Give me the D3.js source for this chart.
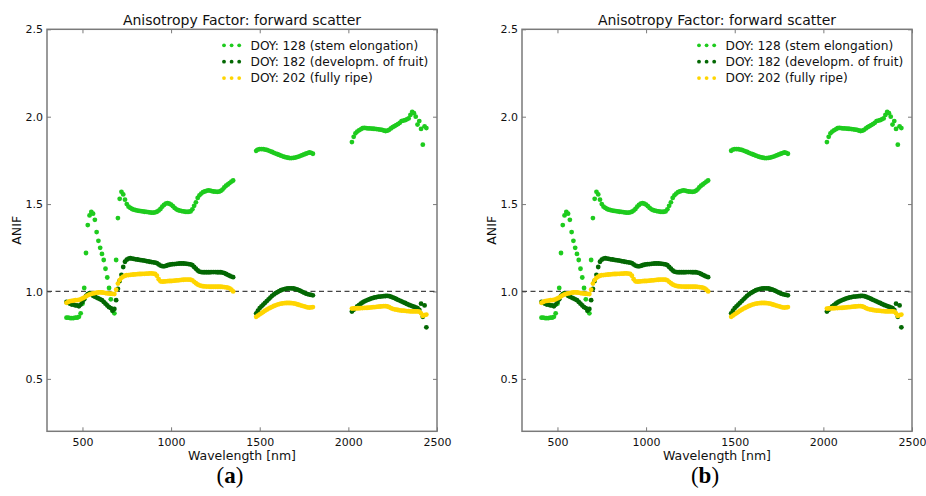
<!DOCTYPE html>
<html>
<head>
<meta charset="utf-8">
<script src="https://cdn.jsdelivr.net/npm/d3@7"></script>
<style>
  body { margin: 0; background: #fff; }
  svg { display: block; font-family: "DejaVu Sans", sans-serif; }
</style>
</head>
<body>
<svg id="chart" width="926" height="496"></svg>
<script>
// wavelength grid: each segment starts here, 10 nm apart (gaps = water bands)
var segmentStarts = [410, 1480, 2020],
    stepNm = 10;

// DOY 128 (stem elongation)
var doy128Vis = [0.85, 0.85, 0.848, 0.847, 0.848, 0.85, 0.85, 0.855, 0.875, 0.93,
    1.02, 1.22, 1.38, 1.435, 1.455, 1.445, 1.41, 1.34, 1.29, 1.25,
    1.215, 1.18, 1.13, 1.08, 1.02, 0.955, 0.89, 0.875, 1.18, 1.42,
    1.53, 1.57, 1.555, 1.525, 1.50, 1.485, 1.478, 1.472, 1.468, 1.465,
    1.463, 1.461, 1.46, 1.458, 1.456, 1.455, 1.454, 1.452, 1.451, 1.451,
    1.453, 1.456, 1.463, 1.472, 1.485, 1.495, 1.503, 1.505, 1.502, 1.497,
    1.488, 1.478, 1.47, 1.465, 1.462, 1.46, 1.458, 1.456, 1.455, 1.456,
    1.458, 1.47, 1.49, 1.51, 1.535, 1.55, 1.56, 1.568, 1.572, 1.576,
    1.578, 1.577, 1.574, 1.572, 1.571, 1.57, 1.571, 1.575, 1.583, 1.595,
    1.605, 1.612, 1.62, 1.628, 1.635];
var doy128Swir1 = [1.805, 1.812, 1.815, 1.815, 1.814, 1.812, 1.81, 1.806, 1.802, 1.798,
    1.793, 1.789, 1.785, 1.781, 1.777, 1.773, 1.77, 1.767, 1.765, 1.763,
    1.763, 1.764, 1.766, 1.769, 1.772, 1.776, 1.78, 1.784, 1.788, 1.792,
    1.795, 1.793, 1.788];
var doy128Swir2 = [1.855, 1.885, 1.905, 1.915, 1.922, 1.928, 1.934, 1.936, 1.935, 1.933,
    1.933, 1.932, 1.931, 1.93, 1.929, 1.928, 1.926, 1.924, 1.921, 1.918,
    1.92, 1.925, 1.933, 1.94, 1.946, 1.952, 1.958, 1.965, 1.975, 1.978,
    1.98, 1.985, 1.99, 2.01, 2.028, 2.02, 2.0, 1.955, 1.975, 1.93,
    1.84, 1.945, 1.935];

// DOY 182 (developm. of fruit)
var doy182Vis = [0.94, 0.935, 0.93, 0.925, 0.925, 0.92, 0.92, 0.915, 0.925, 0.94,
    0.955, 0.975, 0.985, 0.99, 0.985, 0.975, 0.97, 0.965, 0.96, 0.955,
    0.95, 0.94, 0.93, 0.92, 0.91, 0.905, 0.89, 0.9, 0.95, 1.015,
    1.06, 1.095, 1.14, 1.17, 1.182, 1.188, 1.19, 1.188, 1.186, 1.184,
    1.183, 1.181, 1.179, 1.178, 1.176, 1.174, 1.172, 1.17, 1.168, 1.167,
    1.165, 1.162, 1.155, 1.148, 1.145, 1.144, 1.146, 1.15, 1.153, 1.155,
    1.156, 1.157, 1.158, 1.159, 1.16, 1.16, 1.16, 1.159, 1.158, 1.157,
    1.155, 1.15, 1.14, 1.13, 1.12, 1.113, 1.111, 1.11, 1.11, 1.11,
    1.11, 1.11, 1.111, 1.111, 1.111, 1.11, 1.11, 1.11, 1.108, 1.105,
    1.1, 1.095, 1.09, 1.085, 1.082];
var doy182Swir1 = [0.875, 0.89, 0.905, 0.915, 0.925, 0.935, 0.945, 0.955, 0.965, 0.975,
    0.983, 0.99, 0.996, 1.002, 1.007, 1.011, 1.014, 1.016, 1.017, 1.018,
    1.018, 1.017, 1.015, 1.012, 1.008, 1.003, 0.998, 0.993, 0.988, 0.985,
    0.982, 0.98, 0.978];
var doy182Swir2 = [0.885, 0.895, 0.905, 0.915, 0.922, 0.93, 0.937, 0.943, 0.948, 0.952,
    0.956, 0.96, 0.963, 0.966, 0.968, 0.97, 0.971, 0.972, 0.973, 0.974,
    0.975, 0.973, 0.97, 0.966, 0.962, 0.957, 0.952, 0.948, 0.943, 0.938,
    0.934, 0.929, 0.924, 0.92, 0.916, 0.913, 0.909, 0.905, 0.895, 0.93,
    0.855, 0.92, 0.795];

// DOY 202 (fully ripe)
var doy202Vis = [0.935, 0.94, 0.945, 0.946, 0.948, 0.95, 0.95, 0.952, 0.955, 0.96,
    0.965, 0.972, 0.978, 0.983, 0.986, 0.989, 0.991, 0.993, 0.994, 0.995,
    0.994, 0.993, 0.991, 0.989, 0.988, 0.987, 0.986, 0.985, 1.01, 1.045,
    1.065, 1.078, 1.085, 1.09, 1.093, 1.094, 1.095, 1.096, 1.097, 1.098,
    1.099, 1.1, 1.1, 1.101, 1.101, 1.102, 1.102, 1.103, 1.103, 1.102,
    1.1, 1.09, 1.07, 1.058, 1.056, 1.057, 1.058, 1.059, 1.06, 1.06,
    1.061, 1.062, 1.063, 1.064, 1.065, 1.066, 1.067, 1.068, 1.068, 1.068,
    1.067, 1.064, 1.055, 1.047, 1.04, 1.035, 1.032, 1.03, 1.029, 1.028,
    1.028, 1.027, 1.027, 1.027, 1.027, 1.027, 1.027, 1.027, 1.026, 1.025,
    1.024, 1.022, 1.018, 1.01, 1.0];
var doy202Swir1 = [0.855, 0.862, 0.869, 0.876, 0.883, 0.89, 0.896, 0.902, 0.907, 0.912,
    0.917, 0.921, 0.925, 0.928, 0.93, 0.932, 0.933, 0.934, 0.934, 0.934,
    0.933, 0.932, 0.93, 0.927, 0.924, 0.921, 0.918, 0.915, 0.912, 0.909,
    0.908, 0.909, 0.911];
var doy202Swir2 = [0.902, 0.903, 0.903, 0.904, 0.904, 0.905, 0.905, 0.906, 0.906, 0.907,
    0.908, 0.909, 0.91, 0.911, 0.912, 0.913, 0.914, 0.915, 0.916, 0.916,
    0.914, 0.91, 0.905, 0.901, 0.898, 0.896, 0.894, 0.892, 0.891, 0.89,
    0.889, 0.888, 0.887, 0.886, 0.886, 0.886, 0.886, 0.886, 0.885, 0.875,
    0.86, 0.865, 0.868];

var seriesLabels = ["DOY: 128 (stem elongation)", "DOY: 182 (developm. of fruit)", "DOY: 202 (fully ripe)"],
    seriesColors = ["#1ecb1e", "#036803", "#ffd500"],
    seriesValues = [
        [doy128Vis, doy128Swir1, doy128Swir2],
        [doy182Vis, doy182Swir1, doy182Swir2],
        [doy202Vis, doy202Swir1, doy202Swir2]
    ];

var xTicks = [500, 1000, 1500, 2000, 2500],
    yTicks = [0.5, 1.0, 1.5, 2.0, 2.5],
    panelCaptions = ["a", "b"],
    panelLefts = [47, 522];

(function () {
    var svg = d3.select("#chart"),
        plotTop = 29.3,
        plotW = 390,
        plotH = 402,
        frameColor = "#7a7a7a";

    var toPoints = function (segs) {
        var pts = [];
        segs.forEach(function (vals, s) {
            vals.forEach(function (v, i) {
                pts.push({ w: segmentStarts[s] + i * stepNm, v: v });
            });
        });
        return pts;
    };

    var drawPanel = function (left, caption) {
        var x = d3.scaleLinear().domain([300, 2500]).range([0, plotW]),
            y = d3.scaleLinear().domain([0.2, 2.5]).range([plotH, 0]);

        var g = svg.append("g").attr("transform", "translate(" + left + "," + plotTop + ")");

        // ticks point inward on all four sides
        g.append("g").attr("transform", "translate(0," + plotH + ")")
            .call(d3.axisBottom(x).tickValues(xTicks).tickSize(-4).tickPadding(7).tickFormat(d3.format("d")));
        g.append("g")
            .call(d3.axisTop(x).tickValues(xTicks).tickSize(-4).tickFormat(""));
        g.append("g")
            .call(d3.axisLeft(y).tickValues(yTicks).tickSize(-4).tickPadding(4).tickFormat(d3.format(".1f")));
        g.append("g").attr("transform", "translate(" + plotW + ",0)")
            .call(d3.axisRight(y).tickValues(yTicks).tickSize(-4).tickFormat(""));

        g.selectAll(".domain").remove();
        g.selectAll(".tick line").attr("stroke", frameColor);
        g.selectAll(".tick text").attr("font-size", 11).attr("font-family", "DejaVu Sans").attr("fill", "#111");

        g.append("rect")
            .attr("width", plotW)
            .attr("height", plotH)
            .attr("fill", "none")
            .attr("stroke", frameColor)
            .attr("stroke-width", 1.5);

        g.append("line")
            .attr("x1", 0).attr("x2", plotW)
            .attr("y1", y(1)).attr("y2", y(1))
            .attr("stroke", "#444")
            .attr("stroke-width", 1.2)
            .attr("stroke-dasharray", "5,3.5");

        seriesValues.forEach(function (segs, k) {
            g.append("g").selectAll("circle")
                .data(toPoints(segs))
                .enter()
                .append("circle")
                .attr("cx", function (d) { return x(d.w); })
                .attr("cy", function (d) { return y(d.v); })
                .attr("r", 2.4)
                .attr("fill", seriesColors[k]);
        });

        // legend, no box
        var leg = g.append("g").attr("transform", "translate(177,16)");
        seriesLabels.forEach(function (lab, k) {
            var row = leg.append("g").attr("transform", "translate(0," + (k * 16.4) + ")");
            [0, 7.6, 15.2].forEach(function (dx) {
                row.append("circle").attr("cx", dx).attr("cy", 0).attr("r", 1.9).attr("fill", seriesColors[k]);
            });
            row.append("text")
                .attr("x", 26.5)
                .attr("y", 0)
                .attr("dy", "0.35em")
                .attr("font-size", 12.2)
                .attr("fill", "#111")
                .text(lab);
        });

        g.append("text")
            .attr("x", plotW / 2)
            .attr("y", -4)
            .attr("text-anchor", "middle")
            .attr("font-size", 14)
            .attr("fill", "#111")
            .text("Anisotropy Factor: forward scatter");

        g.append("text")
            .attr("x", plotW / 2)
            .attr("y", plotH + 29)
            .attr("text-anchor", "middle")
            .attr("font-size", 12.5)
            .attr("fill", "#111")
            .text("Wavelength [nm]");

        g.append("text")
            .attr("transform", "translate(-26," + (plotH / 2) + ") rotate(-90)")
            .attr("text-anchor", "middle")
            .attr("font-size", 12.5)
            .attr("fill", "#111")
            .text("ANIF");

        var cap = svg.append("text")
            .attr("x", left + 183)
            .attr("y", 483)
            .attr("text-anchor", "middle")
            .attr("font-family", "Liberation Serif, serif")
            .attr("font-size", 23)
            .attr("fill", "#000");
        cap.append("tspan").text("(");
        cap.append("tspan").attr("font-weight", "bold").text(caption);
        cap.append("tspan").text(")");
    };

    panelLefts.forEach(function (left, i) { drawPanel(left, panelCaptions[i]); });
})();
</script>
</body>
</html>
